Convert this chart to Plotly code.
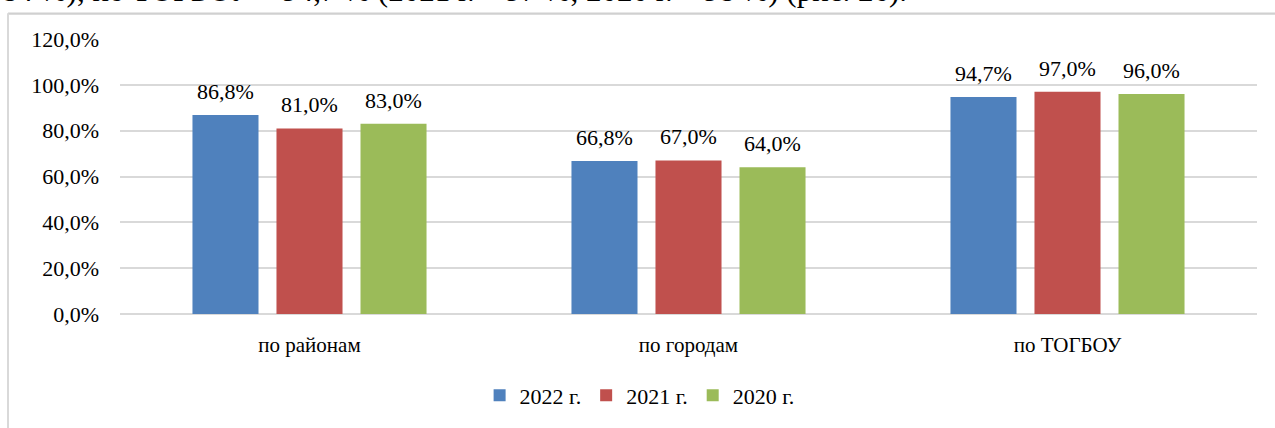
import plotly.graph_objects as go

categories = ["по районам", "по городам", "по ТОГБОУ"]
years = ["2022 г.", "2021 г.", "2020 г."]
values_2022 = [86.8, 66.8, 94.7]
values_2021 = [81.0, 67.0, 97.0]
values_2020 = [83.0, 64.0, 96.0]
y_ticks = [0, 20, 40, 60, 80, 100, 120]
y_tick_labels = ["0,0%", "20,0%", "40,0%", "60,0%", "80,0%", "100,0%", "120,0%"]

colors = ["#4f81bd", "#c0504d", "#9bbb59"]
series = [values_2022, values_2021, values_2020]
FONT = "Liberation Serif, Times New Roman, serif"

fig = go.Figure()
for name, vals, col in zip(years, series, colors):
    fig.add_bar(x=categories, y=vals, name=name, marker=dict(color=col, line=dict(width=0)))

# value labels above each bar
slot = 84
for i, vals in enumerate(series):
    for cat, v in zip(categories, vals):
        fig.add_annotation(
            x=cat, y=v, xref="x", yref="y",
            text=f"{v:.1f}".replace(".", ",") + "%",
            showarrow=False, yanchor="bottom", yshift=9, xshift=(i - 1) * slot,
            font=dict(family=FONT, size=22, color="black"),
        )

# cut-off document line above the chart
fig.add_annotation(
    x=-0.1055, y=1.105, xref="paper", yref="paper", xanchor="left", yanchor="bottom",
    text="84 %), по ТОГБОУ – 94,7 % (2021 г. – 97 %, 2020 г. – 98 %) (рис. 26).",
    showarrow=False, font=dict(family=FONT, size=31, color="black"),
)

# chart frame (top and left edges visible)
fig.add_shape(type="rect", xref="paper", yref="paper",
              x0=-0.0985, x1=1.05, y0=1.088, y1=1.096,
              line=dict(width=0), fillcolor="#d0d0d0", layer="above")
fig.add_shape(type="line", xref="paper", yref="paper",
              x0=-0.0985, x1=-0.0985, y0=-0.5, y1=1.094,
              line=dict(color="#d9d9d9", width=2))

fig.update_layout(
    width=1275, height=428,
    margin=dict(l=120, r=18, t=39, b=112),
    paper_bgcolor="white", plot_bgcolor="white",
    barmode="group", bargap=0.335, bargroupgap=0.214,
    font=dict(family=FONT, size=20, color="black"),
    showlegend=True,
    legend=dict(orientation="h", x=0.457, xanchor="center", y=-0.296, yanchor="middle",
                font=dict(family=FONT, size=22), itemwidth=30, tracegroupgap=0),
    xaxis=dict(showgrid=False, showline=False, ticks="", ticklabelstandoff=16,
               tickfont=dict(family=FONT, size=21)),
    yaxis=dict(range=[0, 120], tickvals=y_ticks, ticktext=y_tick_labels,
               showgrid=True, gridcolor="#d9d9d9", gridwidth=1.5,
               zeroline=True, zerolinecolor="#d9d9d9", zerolinewidth=1.5,
               ticklabelstandoff=20, tickfont=dict(family=FONT, size=22)),
)

fig.write_html("out.html", config={"displayModeBar": False},
               post_script="document.body.style.margin='0';")
